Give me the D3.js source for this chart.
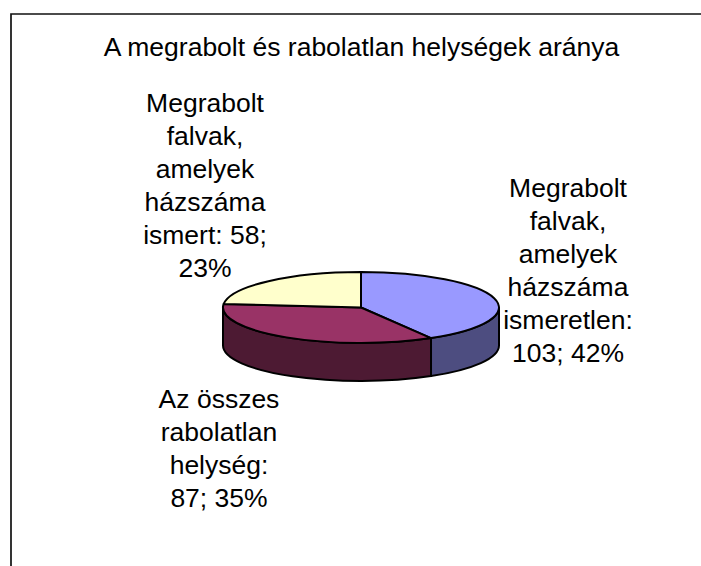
<!DOCTYPE html>
<html><head><meta charset="utf-8">
<script src="https://cdn.jsdelivr.net/npm/d3@7"></script>
<style>html,body{margin:0;padding:0;background:#fff}svg{display:block}text{font-family:"Liberation Sans",Arial,sans-serif;font-size:26.5px;fill:#000}</style>
</head><body>
<svg id="c" width="701" height="566"></svg>
<script>
const title = "A megrabolt és rabolatlan helységek aránya";
const categories = ["Megrabolt falvak, amelyek házszáma ismeretlen", "Az összes rabolatlan helység", "Megrabolt falvak, amelyek házszáma ismert"];
const values = [103, 87, 58];
const percents = [42, 35, 23];
const topColors = ["#9999ff", "#993366", "#ffffcc"];
const sideColors = ["#4d4d80", "#4d1a33", "#808066"];
const labelLines = [
  ["Megrabolt", "falvak,", "amelyek", "házszáma", "ismeretlen:", "103; 42%"],
  ["Az összes", "rabolatlan", "helység:", "87; 35%"],
  ["Megrabolt", "falvak,", "amelyek", "házszáma", "ismert: 58;", "23%"]
];
const labelAnchors = [[568, 197], [219, 408], [205, 112]];

const svg = d3.select("#c");
const cx = 361, cy = 307.5, rx = 138, ry = 35.5, depth = 38;
const sx = d3.scaleLinear().domain([-1, 1]).range([cx - rx, cx + rx]);
const sy = d3.scaleLinear().domain([-1, 1]).range([cy - ry, cy + ry]);
const pt = a => [sx(Math.sin(a)), sy(-Math.cos(a))];

svg.append("path").attr("d", d3.line()([[11, 566], [11, 14], [701, 14]]))
  .attr("fill", "none").attr("stroke", "#111").attr("stroke-width", 1.7);

svg.append("text").attr("x", 361.5).attr("y", 56).attr("text-anchor", "middle").text(title);

const arcs = d3.pie().sort(null)(values);

arcs.forEach((d, i) => {
  const a0 = Math.max(d.startAngle, Math.PI / 2), a1 = Math.min(d.endAngle, 3 * Math.PI / 2);
  if (a1 <= a0) return;
  const [x0, y0] = pt(a0), [x1, y1] = pt(a1);
  svg.append("path")
    .attr("d", `M${x0},${y0}A${rx},${ry} 0 0 1 ${x1},${y1}L${x1},${y1 + depth}A${rx},${ry} 0 0 0 ${x0},${y0 + depth}Z`)
    .attr("fill", sideColors[i]).attr("stroke", "#000").attr("stroke-width", 2).attr("stroke-linejoin", "round");
});

arcs.forEach((d, i) => {
  const [x0, y0] = pt(d.startAngle), [x1, y1] = pt(d.endAngle);
  const large = d.endAngle - d.startAngle > Math.PI ? 1 : 0;
  svg.append("path")
    .attr("d", `M${cx},${cy}L${x0},${y0}A${rx},${ry} 0 ${large} 1 ${x1},${y1}Z`)
    .attr("fill", topColors[i]).attr("stroke", "#000").attr("stroke-width", 2).attr("stroke-linejoin", "round");
});

labelLines.forEach((lines, i) => {
  const t = svg.append("text").attr("text-anchor", "middle");
  lines.forEach((s, j) => t.append("tspan").attr("x", labelAnchors[i][0]).attr("y", labelAnchors[i][1] + j * 33).text(s));
});
</script>
</body></html>
